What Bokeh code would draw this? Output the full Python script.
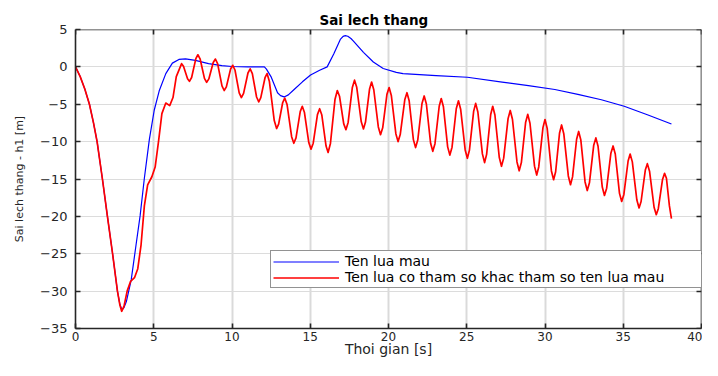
from bokeh.plotting import figure
from bokeh.models import Range1d, FixedTicker, LinearAxis, Legend, LegendItem
from bokeh.embed import file_html
from bokeh.resources import INLINE

# ---------------- data ----------------
t_blue = [0, 0.3, 0.6, 0.89, 1.15, 1.38,
          1.72, 2.04, 2.37, 2.68, 2.84, 2.97,
          3.1, 3.25, 3.56, 3.87, 4.13, 4.4,
          4.72, 5.03, 5.35, 5.77, 6.19, 6.61,
          7.03, 7.66, 8.5, 9.35, 10.0, 11.0,
          12.07, 12.2, 12.49, 12.91, 13.1, 13.33,
          13.6, 13.97, 14.5, 15.02, 15.6, 16.08,
          16.5, 16.92, 17.1, 17.24, 17.4, 17.6,
          17.76, 18.4, 19.03, 19.66, 20.5, 20.93,
          23.04, 25.04, 27.26, 28.94, 30.63, 32.1,
          33.6, 35.06, 36.54, 38.08]
y_blue = [0, -1.3, -3.0, -5.0, -7.5, -10.0,
          -15.0, -20.0, -25.0, -30.0, -31.8, -32.5,
          -32.2, -31.4, -28.5, -23.8, -19.9, -14.9,
          -9.7, -5.8, -3.2, -0.9, 0.5, 1.0,
          1.08, 0.86, 0.43, 0.17, 0.05, 0.0,
          0.0, -0.3, -1.3, -3.46, -3.85, -4.02,
          -3.75, -3.03, -2.0, -1.08, -0.45, 0.0,
          1.72, 3.67, 4.08, 4.18, 4.1, 3.8,
          3.45, 1.94, 0.65, -0.22, -0.74, -0.9,
          -1.17, -1.39, -2.03, -2.5, -3.03, -3.67,
          -4.4, -5.27, -6.4, -7.64]

t_red = [0, 0.3, 0.6, 0.89, 1.15, 1.38,
         1.72, 2.04, 2.37, 2.68, 2.84, 2.95,
         3.1, 3.3, 3.52, 3.77, 3.98, 4.19,
         4.4, 4.61, 4.88, 5.09, 5.31, 5.52,
         5.77, 6.02, 6.23, 6.44, 6.78, 6.9,
         7.16, 7.28, 7.42, 7.69, 7.82, 7.96,
         8.24, 8.38, 8.52, 8.80, 8.94, 9.08,
         9.36, 9.5, 9.64, 9.91, 10.05, 10.19,
         10.46, 10.6, 10.74, 11.02, 11.16, 11.30,
         11.57, 11.71, 11.84, 12.11, 12.24, 12.39,
         12.70, 12.85, 12.98, 13.24, 13.37, 13.52,
         13.81, 13.95, 14.09, 14.36, 14.49, 14.63,
         14.91, 15.05, 15.19, 15.46, 15.6, 15.74,
         16.01, 16.14, 16.29, 16.58, 16.73, 16.87,
         17.14, 17.28, 17.42, 17.69, 17.83, 17.97,
         18.26, 18.4, 18.53, 18.79, 18.92, 19.06,
         19.35, 19.49, 19.63, 19.90, 20.04, 20.18,
         20.47, 20.61, 20.75, 21.04, 21.18, 21.32,
         21.59, 21.73, 21.87, 22.14, 22.28, 22.42,
         22.69, 22.83, 22.97, 23.24, 23.37, 23.51,
         23.78, 23.92, 24.06, 24.33, 24.47, 24.61,
         24.90, 25.04, 25.17, 25.44, 25.57, 25.71,
         26.0, 26.14, 26.27, 26.53, 26.66, 26.80,
         27.08, 27.22, 27.36, 27.64, 27.78, 27.92,
         28.21, 28.35, 28.49, 28.76, 28.9, 29.04,
         29.33, 29.47, 29.60, 29.87, 30.0, 30.14,
         30.41, 30.55, 30.68, 30.93, 31.06, 31.20,
         31.49, 31.63, 31.76, 32.02, 32.15, 32.29,
         32.56, 32.7, 32.84, 33.11, 33.25, 33.39,
         33.66, 33.8, 33.94, 34.21, 34.35, 34.49,
         34.76, 34.9, 35.04, 35.31, 35.44, 35.58,
         35.87, 36.01, 36.14, 36.41, 36.54, 36.68,
         36.97, 37.11, 37.24, 37.51, 37.64, 37.76,
         37.95, 38.08]
y_red = [0, -1.3, -3.0, -5.0, -7.5, -10.0,
         -15.0, -20.0, -25.0, -30.0, -31.9, -32.7,
         -32.0, -30.0, -28.7, -28.2, -27.0, -23.8,
         -18.6, -15.8, -14.7, -13.4, -9.9, -6.26,
         -4.84, -5.18, -4.1, -1.3, 0.43, 0.08,
         -1.59, -1.94, -1.42, 1.10, 1.62, 1.08,
         -1.53, -2.07, -1.61, 0.59, 1.05, 0.44,
         -2.55, -3.16, -2.67, -0.28, 0.21, -0.42,
         -3.47, -4.1, -3.54, -0.82, -0.26, -0.90,
         -4.03, -4.67, -4.12, -1.45, -0.9, -1.97,
         -7.18, -8.25, -7.65, -4.77, -4.17, -5.05,
         -9.34, -10.22, -9.5, -5.99, -5.27, -6.11,
         -10.16, -11.0, -10.21, -6.39, -5.6, -6.45,
         -10.6, -11.45, -10.24, -4.37, -3.16, -3.93,
         -7.63, -8.4, -7.43, -2.75, -1.78, -2.73,
         -7.35, -8.3, -7.38, -2.95, -2.03, -3.06,
         -8.04, -9.07, -8.15, -3.68, -2.76, -3.82,
         -8.94, -10.0, -9.05, -4.41, -3.46, -4.53,
         -9.73, -10.8, -9.79, -4.9, -3.89, -4.97,
         -10.22, -11.3, -10.27, -5.27, -4.24, -5.34,
         -10.7, -11.8, -10.74, -5.6, -4.54, -5.66,
         -11.11, -12.23, -11.16, -5.95, -4.88, -6.04,
         -11.64, -12.8, -11.7, -6.37, -5.27, -6.44,
         -12.13, -13.3, -12.21, -6.92, -5.83, -7.01,
         -12.72, -13.9, -12.8, -7.45, -6.35, -7.54,
         -13.28, -14.47, -13.39, -8.13, -7.05, -8.23,
         -13.92, -15.1, -14.03, -8.84, -7.77, -8.94,
         -14.59, -15.76, -14.72, -9.68, -8.64, -9.79,
         -15.39, -16.54, -15.51, -10.53, -9.5, -10.62,
         -16.08, -17.2, -16.23, -11.55, -10.58, -11.66,
         -16.92, -18.0, -17.07, -12.59, -11.66, -12.71,
         -17.82, -18.87, -18.01, -13.81, -12.95, -13.95,
         -18.78, -19.78, -18.97, -15.06, -14.25, -14.9,
         -18.6, -20.3]

x_ticks = [0, 5, 10, 15, 20, 25, 30, 35, 40]
y_ticks = [-35, -30, -25, -20, -15, -10, -5, 0, 5]
series_names = ["Ten lua mau", "Ten lua co tham so khac tham so ten lua mau"]
title_text = "Sai lech thang"
x_label = "Thoi gian [s]"
y_label = "Sai lech thang - h1 [m]"

FONT = "DejaVu Sans"
DARK = "#262626"

p = figure(width=702, height=360, output_backend="svg", toolbar_location=None,
           x_range=Range1d(0, 40), y_range=Range1d(-35, 5),
           x_axis_location=None, y_axis_location=None,
           min_border_left=75, min_border_right=1, min_border_top=29, min_border_bottom=32)
p.outline_line_color = None
p.background_fill_color = "white"
p.border_fill_color = "white"

# title
p.title.text = title_text
p.title.text_font = FONT
p.title.text_font_style = "bold"
p.title.text_font_size = "13.5px"
p.title.text_color = "black"
p.title.align = "left"
p.title.offset = 244
p.title.standoff = 4


def style_axis(ax, ticks, labels):
    ax.ticker = FixedTicker(ticks=ticks)
    ax.axis_line_color = DARK
    ax.axis_line_width = 1.6
    ax.major_tick_in = 5
    ax.major_tick_out = 0
    ax.major_tick_line_color = DARK
    ax.major_tick_line_width = 1.6
    ax.minor_tick_line_color = None
    ax.major_label_text_font = FONT
    ax.major_label_text_color = DARK
    ax.major_label_text_font_size = "13px"
    ax.axis_label_text_font = FONT
    ax.axis_label_text_font_style = "normal"
    ax.axis_label_text_color = DARK
    if not labels:
        ax.major_label_text_font_size = "0px"
        ax.major_label_standoff = 0
        ax.major_label_overrides = {v: "" for v in ticks}


bottom = LinearAxis(axis_label=x_label)
top = LinearAxis(fixed_location=5)
left = LinearAxis(axis_label=y_label)
right = LinearAxis(fixed_location=40)
style_axis(bottom, x_ticks, True)
style_axis(top, x_ticks, False)
style_axis(left, y_ticks, True)
style_axis(right, y_ticks, False)

bottom.major_label_text_font_size = "12px"
bottom.major_label_standoff = 3
bottom.axis_label_text_font_size = "14px"
bottom.axis_label_standoff = -3

left.major_label_standoff = 8
left.axis_label_text_font_size = "11px"
left.axis_label_standoff = 11

p.add_layout(bottom, "below")
p.add_layout(top, "above")
p.add_layout(left, "left")
p.add_layout(right, "right")

p.xgrid.ticker = FixedTicker(ticks=x_ticks)
p.ygrid.ticker = FixedTicker(ticks=y_ticks)
p.xgrid.grid_line_color = "#dadada"
p.xgrid.grid_line_width = 2
p.ygrid.grid_line_color = "#dcdcdc"
p.ygrid.grid_line_width = 1.2

r_blue = p.line(t_blue, y_blue, line_color="#0000ff", line_width=1.2, line_join="round")
r_red = p.line(t_red, y_red, line_color="#ff0000", line_width=1.7, line_join="round")

legend = Legend(items=[LegendItem(label=series_names[0], renderers=[r_blue]),
                       LegendItem(label=series_names[1], renderers=[r_red])],
                location=(195, 40))
legend.label_text_font = FONT
legend.label_text_font_size = "14px"
legend.label_text_color = "black"
legend.border_line_color = DARK
legend.border_line_width = 1.2
legend.background_fill_color = "white"
legend.background_fill_alpha = 1
legend.padding = 2
legend.spacing = -2
legend.margin = 0
legend.glyph_width = 66
legend.glyph_height = 15
legend.label_height = 15
legend.label_width = 355
legend.label_standoff = 6
p.add_layout(legend, "center")

open("out.html", "w").write(file_html(p, INLINE))
